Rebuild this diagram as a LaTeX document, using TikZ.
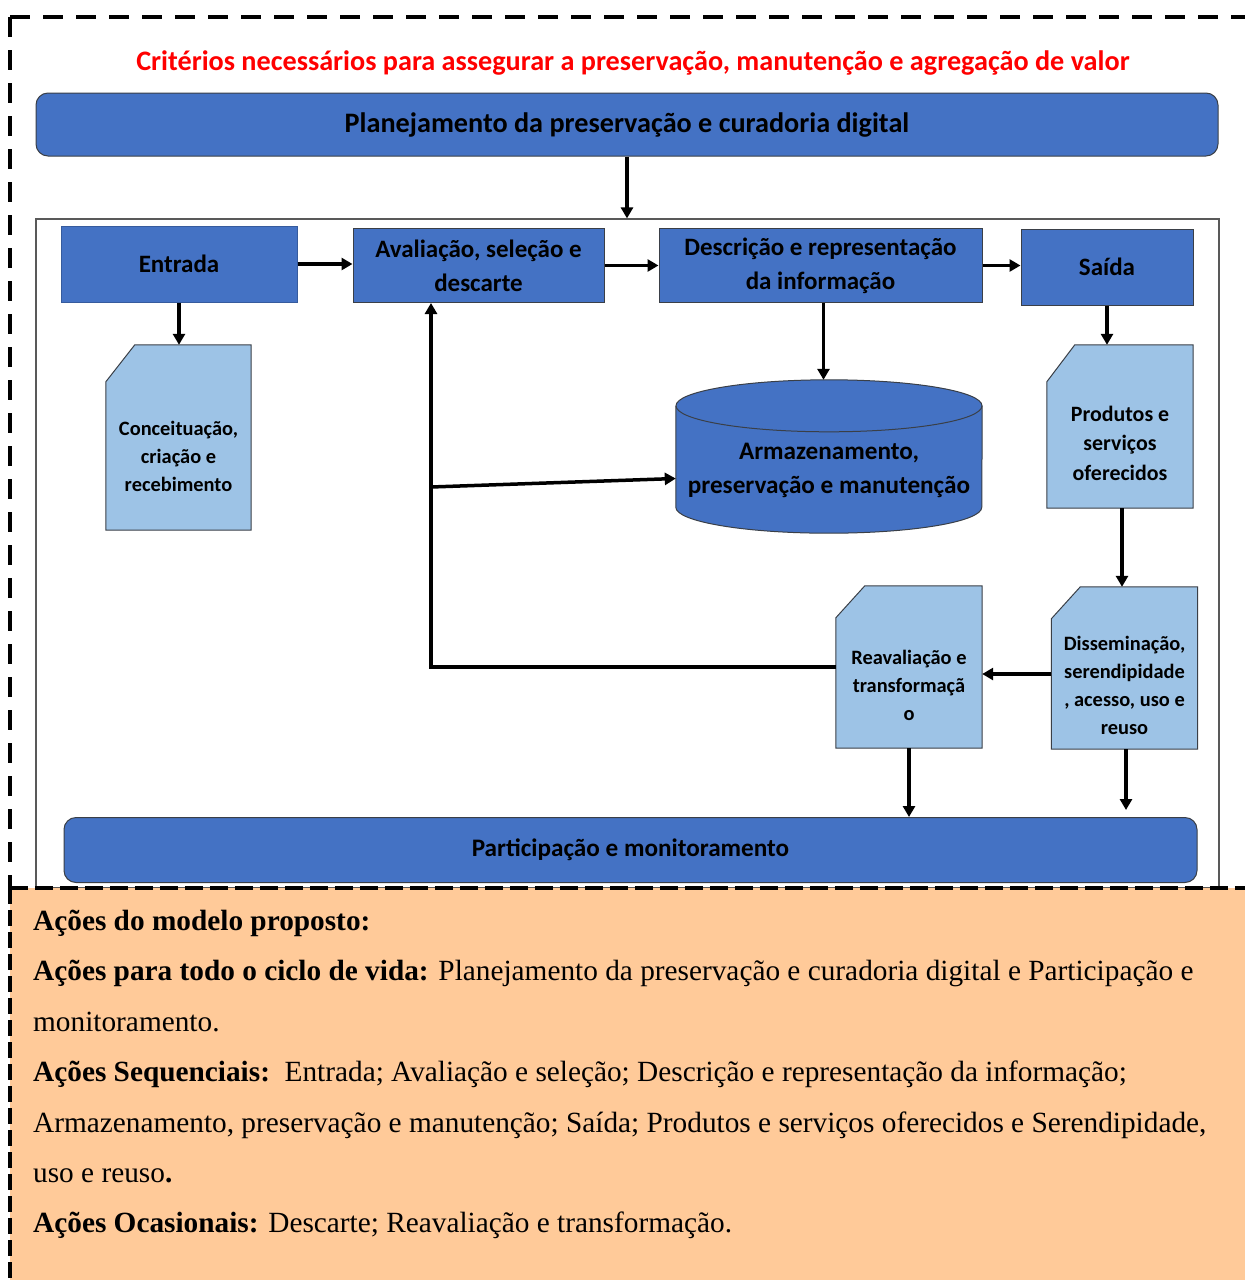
\documentclass[tikz,border=0pt]{standalone}
\usepackage{fontspec}
\setmainfont{Liberation Serif}
\newfontfamily\calfont{Carlito}
\usetikzlibrary{arrows.meta,calc,backgrounds}

\definecolor{boxblue}{HTML}{4472C4}
\definecolor{cardblue}{HTML}{9DC3E6}
\definecolor{edgegray}{HTML}{3A3F47}
\definecolor{notefill}{HTML}{FFCA99}

% card with a cut top-left corner, drawn around an empty node
\newcommand\cutcard[3]{%
  \path[card] ($(#1.north west)+(0,#3)$) -- ($(#1.north west)+(#2,0)$)
    -- (#1.north east) -- (#1.south east) -- (#1.south west) -- cycle;}

\begin{document}
\begin{tikzpicture}[x=1pt,y=1pt,yscale=-1,
  outerdash/.style={line width=4pt, dash pattern=on 20pt off 13pt},
  innerdash/.style={line width=4.5pt, dash pattern=on 18pt off 7pt},
  bar/.style={draw=edgegray, line width=1pt, fill=boxblue, rounded corners=12pt,
    inner sep=0pt, font=\calfont\bfseries\fontsize{28.2}{32}\selectfont},
  stepbox/.style={draw=edgegray, line width=1pt, fill=boxblue, inner sep=0pt,
    align=center, font=\calfont\bfseries\fontsize{25}{34}\selectfont},
  cardspot/.style={inner sep=0pt},
  card/.style={fill=cardblue, draw=edgegray, line width=1pt},
  cardtext/.style={align=center, inner sep=0pt,
    font=\calfont\bfseries\fontsize{20.4}{28}\selectfont},
  arr/.style={line width=3.5pt, -{Triangle[length=11pt,width=12pt]}},
  body/.style={anchor=base west, inner sep=0pt, font=\fontsize{29.3}{34}\selectfont}]

\useasboundingbox (0,0) rectangle (1245,1280);

% outer dashed frame (upper part)
\draw[outerdash] (10,17) -- (1245,17);
\draw[outerdash] (10,17) -- (10,888);

% heading
\node[text=red, font=\calfont\bfseries\fontsize{28.2}{32}\selectfont] (head) at (633,63)
  {Critérios necessários para assegurar a preservação, manutenção e agregação de valor};

% planning bar and inner frame
\node[bar, minimum width=1182pt, minimum height=63pt] (plan) at (627,124.5)
  {Planejamento da preservação e curadoria digital};
\node[draw=black!65, line width=1.2pt, minimum width=1183pt, minimum height=669pt,
  inner sep=0pt] (frame) at (627.5,553.5) {};

% sequential steps
\node[stepbox, draw=boxblue!80!black, minimum width=236pt, minimum height=76pt] (ent) at (179,264) {Entrada};
\node[stepbox, minimum width=251pt, minimum height=74pt] (aval) at (478.5,265.5) {Avaliação, seleção e\\descarte};
\node[stepbox, minimum width=323pt, minimum height=74pt] (desc) at (820.5,265.5) {Descrição e representação\\da informação};
\node[stepbox, minimum width=172pt, minimum height=76pt] (saida) at (1107,267) {Saída};

% cards
\node[cardspot, minimum width=145pt, minimum height=185pt] (conc) at (178.5,437.5) {};
\node[cardtext] (conct) at (178.5,456) {Conceituação,\\criação e\\recebimento};
\node[cardspot, minimum width=146pt, minimum height=163pt] (prod) at (1120,426.5) {};
\node[cardtext, font=\calfont\bfseries\fontsize{21.9}{29.5}\selectfont] (prodt) at (1120,443) {Produtos e\\serviços\\oferecidos};
\node[cardspot, minimum width=146pt, minimum height=162pt] (dis) at (1124.5,668) {};
\node[cardtext] (dist) at (1124.5,685) {Disseminação,\\serendipidade\\, acesso, uso e\\reuso};
\node[cardspot, minimum width=146pt, minimum height=162pt] (reav) at (909,667) {};
\node[cardtext] (reavt) at (909,685) {Reavaliação e\\transformaçã\\o};

% storage cylinder
\node[cardspot, minimum width=306pt, minimum height=153pt] (stor) at (829,456.5) {};
\node[align=center, inner sep=0pt, font=\calfont\bfseries\fontsize{25.2}{34}\selectfont] (stort) at (829,470)
  {Armazenamento,\\preservação e manutenção};

% participation bar
\node[bar, minimum width=1133pt, minimum height=65pt, font=\calfont\bfseries\fontsize{25.2}{28}\selectfont] (part) at (630.5,850)
  {Participação e monitoramento};

\begin{scope}[on background layer]
  \cutcard{conc}{29}{37}
  \cutcard{prod}{28}{37}
  \cutcard{dis}{29}{32}
  \cutcard{reav}{29}{32}
  \path[fill=boxblue] ($(stor.north west)+(0,26)$) -- ($(stor.south west)+(0,-26)$)
    arc[start angle=180, end angle=0, x radius=153, y radius=26]
    -- ($(stor.north east)+(0,26)$)
    arc[start angle=360, end angle=180, x radius=153, y radius=26] -- cycle;
  \draw[edgegray, line width=1pt] ($(stor.north west)+(0,26)$) -- ($(stor.south west)+(0,-26)$)
    arc[start angle=180, end angle=0, x radius=153, y radius=26]
    -- ($(stor.north east)+(0,26)$);
  \draw[edgegray, line width=1pt] ($(stor.north)+(0,26)$) ellipse[x radius=153, y radius=26];
\end{scope}

% connectors
\draw[arr] (plan.south) -- (plan.south |- frame.north);
\draw[arr] (ent.east) -- (ent.east -| aval.west);
\draw[arr] (aval.east) -- (aval.east -| desc.west);
\draw[arr] (desc.east) -- (desc.east -| saida.west);
\draw[arr] (ent.south) -- (ent.south |- conc.north);
\draw[arr] ($(desc.south)+(3,0)$) -- ($(desc.south |- stor.north)+(3,0)$);
\draw[arr] (saida.south) -- (saida.south |- prod.north);
\draw[arr] ($(prod.south)+(2,0)$) -- ($(prod.south |- dis.north)+(2,0)$);
\draw[arr] ($(dis.west)+(0,6)$) -- ($(dis.west -| reav.east)+(0,6)$);
\draw[arr] (reav.west) -| ($(aval.south)+(-47.5,0)$);
\coordinate (split) at (431,487);
\draw[arr] (split) -- ($(stor.west)+(0,22)$);
\draw[arr] (reav.south) -- (reav.south |- part.north);
\draw[arr] ($(dis.south)+(1.5,0)$) -- ($(dis.south |- part.north)+(1.5,-7)$);

% notes panel
\fill[notefill] (10,888) rectangle (1245,1280);
\draw[innerdash] (10,888) -- (1245,888);
\draw[innerdash, dash pattern=on 16pt off 6pt] (10,888) -- (10,1280);

\node[body] (n1) at (33,930) {\textbf{Ações do modelo proposto:}};
\node[body] (n2) at (33,980) {\textbf{Ações para todo o ciclo de vida:} Planejamento da preservação e curadoria digital e Participação e};
\node[body] (n3) at (33,1031) {monitoramento.};
\node[body] (n4) at (33,1081) {\textbf{Ações Sequenciais:}\ \ Entrada; Avaliação e seleção; Descrição e representação da informação;};
\node[body] (n5) at (33,1132) {Armazenamento, preservação e manutenção; Saída; Produtos e serviços oferecidos e Serendipidade,};
\node[body] (n6) at (33,1182) {uso e reuso\textbf{.}};
\node[body] (n7) at (33,1232) {\textbf{Ações Ocasionais:} Descarte; Reavaliação e transformação.};

\end{tikzpicture}
\end{document}
